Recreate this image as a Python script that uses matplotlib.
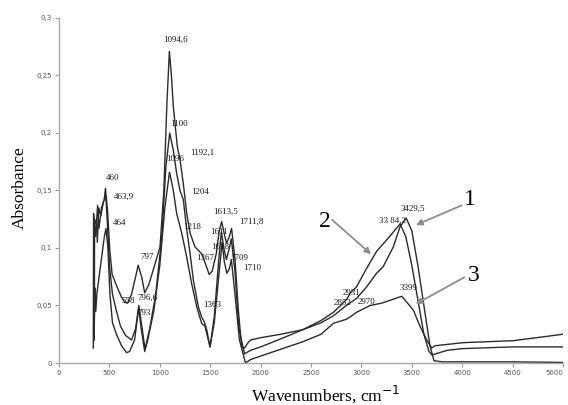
import matplotlib
matplotlib.use("Agg")
import matplotlib.pyplot as plt

# ---- data (wavenumber, absorbance) ----
wA = [340, 343, 352, 363, 383, 396, 422, 448, 461, 481, 504, 527, 567, 616, 649, 680, 720, 760, 785, 820, 850,
      890, 935, 1002, 1040, 1070, 1095, 1115, 1134, 1174, 1200, 1233, 1267, 1300, 1349, 1415, 1450, 1490, 1520,
      1560, 1590, 1614, 1640, 1663, 1690, 1712, 1746, 1779, 1812, 1840, 1870, 1900, 2000, 2200, 2420, 2600, 2722,
      2850, 2950, 3050, 3150, 3217, 3317, 3383, 3445, 3500, 3560, 3620, 3680, 3720, 3800, 4000, 4500, 5000]
aA = [0.013, 0.130, 0.120, 0.110, 0.137, 0.117, 0.135, 0.142, 0.152, 0.133, 0.098, 0.077, 0.068, 0.058, 0.053,
      0.052, 0.060, 0.075, 0.085, 0.075, 0.061, 0.068, 0.081, 0.101, 0.150, 0.225, 0.271, 0.250, 0.223, 0.188,
      0.177, 0.156, 0.130, 0.113, 0.101, 0.095, 0.087, 0.077, 0.080, 0.095, 0.115, 0.123, 0.112, 0.104, 0.110,
      0.117, 0.090, 0.046, 0.014, 0.013, 0.017, 0.020, 0.022, 0.025, 0.029, 0.035, 0.041, 0.050, 0.056, 0.066,
      0.078, 0.084, 0.101, 0.1185, 0.126, 0.115, 0.085, 0.050, 0.015, 0.002, 0.001, 0.001, 0.001, 0.0005]

wB = [350, 353, 370, 380, 395, 415, 440, 464, 478, 500, 530, 570, 610, 660, 720, 760, 792, 825, 853, 900, 960,
      1020, 1060, 1098, 1134, 1167, 1200, 1233, 1267, 1300, 1333, 1382, 1415, 1440, 1465, 1498, 1540, 1585, 1611,
      1635, 1660, 1685, 1709, 1745, 1785, 1840, 1900, 2000, 2200, 2420, 2600, 2722, 2850, 2900, 2950, 3050, 3150,
      3280, 3384, 3440, 3500, 3560, 3620, 3670, 3700, 3850, 4000, 4500, 5000]
aB = [0.020, 0.120, 0.125, 0.105, 0.135, 0.128, 0.140, 0.145, 0.125, 0.085, 0.060, 0.045, 0.032, 0.024, 0.020,
      0.030, 0.050, 0.030, 0.012, 0.030, 0.060, 0.110, 0.170, 0.200, 0.185, 0.165, 0.150, 0.142, 0.116, 0.0955,
      0.072, 0.049, 0.040, 0.036, 0.029, 0.014, 0.040, 0.090, 0.114, 0.100, 0.090, 0.098, 0.108, 0.080, 0.030,
      0.008, 0.011, 0.014, 0.021, 0.029, 0.037, 0.044, 0.055, 0.062, 0.066, 0.082, 0.097, 0.110, 0.121, 0.110,
      0.085, 0.055, 0.025, 0.010, 0.007, 0.011, 0.0125, 0.014, 0.014]

wC = [345, 350, 358, 365, 375, 390, 420, 450, 466, 485, 505, 530, 570, 620, 670, 700, 750, 790, 815, 850, 880,
      940, 1000, 1050, 1096, 1134, 1167, 1217, 1267, 1316, 1366, 1415, 1448, 1481, 1498, 1540, 1590, 1618, 1640,
      1665, 1690, 1710, 1745, 1790, 1850, 1900, 2000, 2200, 2420, 2600, 2722, 2850, 2887, 2950, 3085, 3200, 3300,
      3400, 3449, 3515, 3581, 3648, 3697, 3730, 4011, 4507, 5000]
aC = [0.070, 0.035, 0.065, 0.045, 0.060, 0.070, 0.090, 0.110, 0.117, 0.100, 0.060, 0.035, 0.025, 0.015, 0.009,
      0.010, 0.020, 0.048, 0.030, 0.010, 0.020, 0.045, 0.085, 0.135, 0.166, 0.150, 0.130, 0.113, 0.092, 0.069,
      0.049, 0.0345, 0.032, 0.020, 0.014, 0.035, 0.080, 0.105, 0.088, 0.078, 0.082, 0.090, 0.060, 0.020, 0.000,
      0.003, 0.006, 0.012, 0.0185, 0.025, 0.0345, 0.038, 0.040, 0.044, 0.050, 0.052, 0.055, 0.058, 0.053, 0.046,
      0.032, 0.020, 0.013, 0.015, 0.0177, 0.0194, 0.025]

x_ticks = [0, 500, 1000, 1500, 2000, 2500, 3000, 3500, 4000, 4500, 5000]
x_tick_labels = ["0", "500", "1000", "1500", "2000", "2500", "3000", "3500", "4000", "4500", "5000"]
y_ticks = [0, 0.05, 0.1, 0.15, 0.2, 0.25, 0.3]
y_tick_labels = ["0", "0,05", "0,1", "0,15", "0,2", "0,25", "0,3"]

peak_labels = ["1094,6", "1100", "1096", "1192,1", "1204", "1218", "1613,5", "1711,8", "1611", "1618",
               "1367", "1709", "1710", "1363", "460", "463,9", "464", "797", "558", "796,6", "793",
               "2931", "2852", "2970", "3399", "3429,5", "33 84,2"]
peak_label_pos = [(1151, 0.281), (1190, 0.208), (1154, 0.177), (1422, 0.183), (1399, 0.149), (1319, 0.118),
                  (1652, 0.1316), (1908, 0.1229), (1592, 0.114), (1597, 0.1006), (1448, 0.091), (1784, 0.091),
                  (1913, 0.0823), (1515, 0.0504), (536, 0.161), (645, 0.1446), (605, 0.1215), (873, 0.0924),
                  (688, 0.0542), (876, 0.0571), (848, 0.0432), (2900, 0.0606), (2808, 0.0519), (3049, 0.0528),
                  (3470, 0.065), (3507, 0.1345), (3312, 0.1237)]

fig = plt.figure(figsize=(5.68, 4.05), dpi=100)
ax = fig.add_axes([0.1039, 0.1037, 0.8873, 0.8519])

for w, a in [(wA, aA), (wB, aB), (wC, aC)]:
    ax.plot(w, a, color="#2a2a2a", lw=1.0)

ax.set_xlim(0, 5000)
ax.set_ylim(0, 0.3)
ax.set_xticks(x_ticks)
ax.set_xticklabels(x_tick_labels)
ax.set_yticks(y_ticks)
ax.set_yticklabels(y_tick_labels)
ax.tick_params(axis="both", labelsize=5, colors="#999999", labelcolor="#555555", length=3, width=0.8, pad=2)
ax.get_xticklabels()[-1].set_horizontalalignment("right")
for s in ["top", "right"]:
    ax.spines[s].set_visible(False)
for s in ["left", "bottom"]:
    ax.spines[s].set_color("#aaaaaa")
    ax.spines[s].set_linewidth(1.0)

fig.text(326 / 568, 1 - 394 / 405, "Wavenumbers, cm$^{-1}$", fontsize=12.5, family="Liberation Serif",
         ha="center", va="center")
fig.text(20 / 568, 1 - 188 / 405, "Absorbance", fontsize=12.5, family="Liberation Serif",
         rotation=90, ha="center", va="center")

for t, (px, py) in zip(peak_labels, peak_label_pos):
    ax.text(px, py, t, fontsize=6.5, family="Liberation Serif", ha="center", va="center", color="#1a1a1a")

# numbered curve markers with arrows
arrow_kw = dict(arrowstyle="-|>", color="#8c8c8c", lw=1.3, mutation_scale=9)
ax.text(4077, 0.142, "1", fontsize=17, family="Liberation Serif", ha="center", va="center")
ax.annotate("", xy=(3515, 0.119), xytext=(4020, 0.138), arrowprops=arrow_kw)
ax.text(2639, 0.123, "2", fontsize=17, family="Liberation Serif", ha="center", va="center")
ax.annotate("", xy=(3117, 0.093), xytext=(2690, 0.126), arrowprops=arrow_kw)
ax.text(4110, 0.0757, "3", fontsize=17, family="Liberation Serif", ha="center", va="center")
ax.annotate("", xy=(3515, 0.050), xytext=(4045, 0.0757), arrowprops=arrow_kw)

fig.savefig("out.png", dpi=100)
